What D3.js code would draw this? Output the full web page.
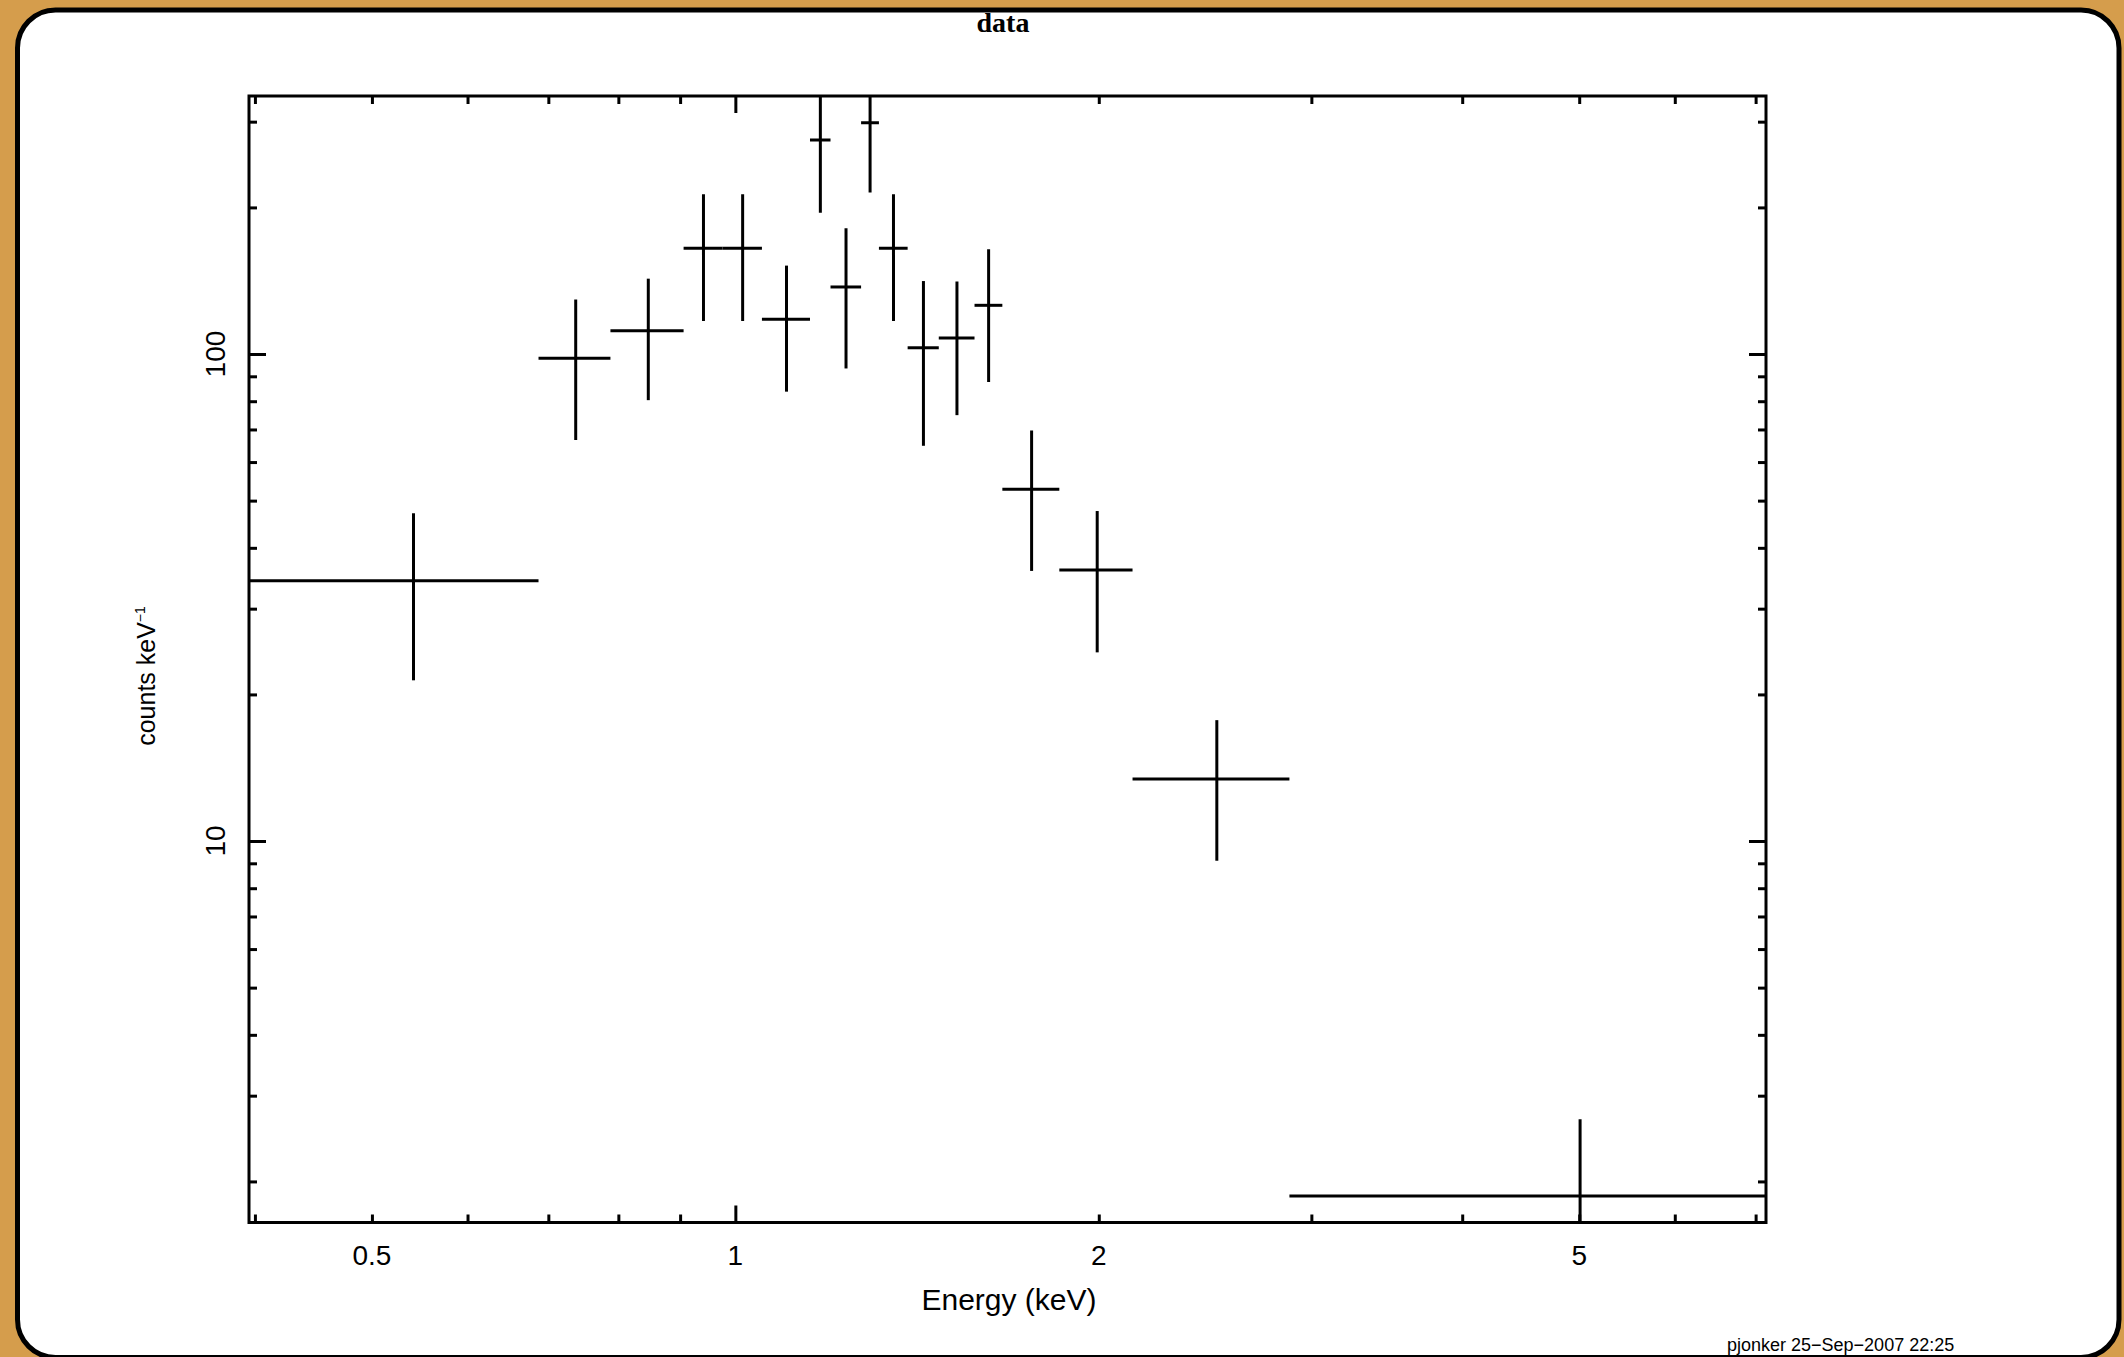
<!DOCTYPE html>
<html>
<head>
<meta charset="utf-8">
<script src="https://cdn.jsdelivr.net/npm/d3@7"></script>
<style>
  html, body { margin: 0; padding: 0; background: #d59d4c; }
  svg { display: block; }
</style>
</head>
<body>
<script>
'use strict';

// bin edges in keV (contiguous), one more than the number of points
const binEdges = [0.3955, 0.687, 0.788, 0.906, 0.976, 1.052, 1.153, 1.199, 1.271,
    1.315, 1.389, 1.474, 1.578, 1.664, 1.855, 2.133, 2.877, 7.14];
const counts = [34.24, 98.0, 111.6, 164.9, 164.9, 117.8, 275.0, 137.3, 298.5,
    164.9, 103.0, 107.9, 125.9, 52.76, 36.0, 13.41, 1.866];
const countErr = [12.86, 31.4, 31.2, 48, 48, 34.1, 80, 43.9, 84,
    48, 38.2, 33, 38.3, 16.9, 11.6, 4.3, 0.817];

const yDomain = [1.647, 338.7];
const xMajorTicks = [1];
const xMinorTicks = [0.4, 0.5, 0.6, 0.7, 0.8, 0.9, 2, 3, 4, 5, 6, 7];
const xTickLabels = [0.5, 1, 2, 5];
const yMajorTicks = [10, 100];
const yMinorTicks = [2, 3, 4, 5, 6, 7, 8, 9, 20, 30, 40, 50, 60, 70, 80, 90, 200, 300];
const yTickLabels = [10, 100];

const W = 2124, H = 1357;
const pLeft = 249, pRight = 1766, pTop = 96, pBottom = 1222.5;

const svg = d3.select("body").append("svg")
    .attr("width", W)
    .attr("height", H);

// card
svg.append("rect")
    .attr("x", 17.5).attr("y", 10)
    .attr("width", 2119 - 17.5).attr("height", 1357.5 - 10)
    .attr("rx", 38).attr("ry", 38)
    .attr("fill", "white")
    .attr("stroke", "black")
    .attr("stroke-width", 5);

let x = d3.scaleLog()
    .domain([binEdges[0], binEdges[binEdges.length - 1]])
    .range([pLeft, pRight]);
let y = d3.scaleLog()
    .domain(yDomain)
    .range([pBottom, pTop]);

const LONG = 17, SHORT = 8;

function tickAxis(axisFn, scale, values, size, transform) {
    let g = svg.append("g")
        .attr("transform", transform)
        .call(axisFn(scale).tickValues(values).tickSizeInner(size).tickSizeOuter(0).tickFormat(""));
    g.select(".domain").remove();
    g.selectAll(".tick line").attr("stroke", "black").attr("stroke-width", 3);
}

// ticks on all four sides, pointing inward
tickAxis(d3.axisBottom, x, xMinorTicks, -SHORT, `translate(0,${pBottom})`);
tickAxis(d3.axisBottom, x, xMajorTicks, -LONG, `translate(0,${pBottom})`);
tickAxis(d3.axisTop, x, xMinorTicks, -SHORT, `translate(0,${pTop})`);
tickAxis(d3.axisTop, x, xMajorTicks, -LONG, `translate(0,${pTop})`);
tickAxis(d3.axisLeft, y, yMinorTicks, -SHORT, `translate(${pLeft},0)`);
tickAxis(d3.axisLeft, y, yMajorTicks, -LONG, `translate(${pLeft},0)`);
tickAxis(d3.axisRight, y, yMinorTicks, -SHORT, `translate(${pRight},0)`);
tickAxis(d3.axisRight, y, yMajorTicks, -LONG, `translate(${pRight},0)`);

// frame
svg.append("rect")
    .attr("x", pLeft).attr("y", pTop)
    .attr("width", pRight - pLeft).attr("height", pBottom - pTop)
    .attr("fill", "none")
    .attr("stroke", "black")
    .attr("stroke-width", 3);

const font = "'Liberation Sans', Arial, Helvetica, sans-serif";

svg.selectAll(".xlab").data(xTickLabels).enter().append("text")
    .attr("x", d => x(d))
    .attr("y", 1265)
    .attr("text-anchor", "middle")
    .attr("font-family", font)
    .attr("font-size", 28)
    .text(d => d);

svg.selectAll(".ylab").data(yTickLabels).enter().append("text")
    .attr("transform", d => `translate(225,${y(d)}) rotate(-90)`)
    .attr("text-anchor", "middle")
    .attr("font-family", font)
    .attr("font-size", 28)
    .text(d => d);

svg.append("text")
    .attr("x", 1009)
    .attr("y", 1310)
    .attr("text-anchor", "middle")
    .attr("font-family", font)
    .attr("font-size", 30)
    .text("Energy (keV)");

let yt = svg.append("text")
    .attr("transform", "translate(155,676) rotate(-90)")
    .attr("text-anchor", "middle")
    .attr("font-family", font)
    .attr("font-size", 25);
yt.append("tspan").text("counts keV");
yt.append("tspan").attr("font-size", 14).attr("dy", -10).text("\u22121");

svg.append("text")
    .attr("x", 1003)
    .attr("y", 32)
    .attr("text-anchor", "middle")
    .attr("font-family", "'Liberation Serif', 'Times New Roman', serif")
    .attr("font-weight", "bold")
    .attr("font-size", 28)
    .text("data");

svg.append("text")
    .attr("x", 1727)
    .attr("y", 1351)
    .attr("font-family", font)
    .attr("font-size", 18)
    .text("pjonker 25\u2212Sep\u22122007 22:25");

// data crosses
svg.append("clipPath").attr("id", "plot")
    .append("rect")
    .attr("x", pLeft).attr("y", pTop)
    .attr("width", pRight - pLeft).attr("height", pBottom - pTop);

let points = counts.map((c, i) => ({
    lo: binEdges[i],
    hi: binEdges[i + 1],
    mid: (binEdges[i] + binEdges[i + 1]) / 2,
    c: c,
    e: countErr[i]
}));

let g = svg.append("g").attr("clip-path", "url(#plot)")
    .attr("stroke", "black")
    .attr("stroke-width", 3);

g.selectAll(".hbar").data(points).enter().append("line")
    .attr("x1", d => x(d.lo))
    .attr("x2", d => x(d.hi))
    .attr("y1", d => y(d.c))
    .attr("y2", d => y(d.c));

g.selectAll(".vbar").data(points).enter().append("line")
    .attr("x1", d => x(d.mid))
    .attr("x2", d => x(d.mid))
    .attr("y1", d => y(d.c + d.e))
    .attr("y2", d => y(Math.max(d.c - d.e, 0.5)));
</script>
</body>
</html>
